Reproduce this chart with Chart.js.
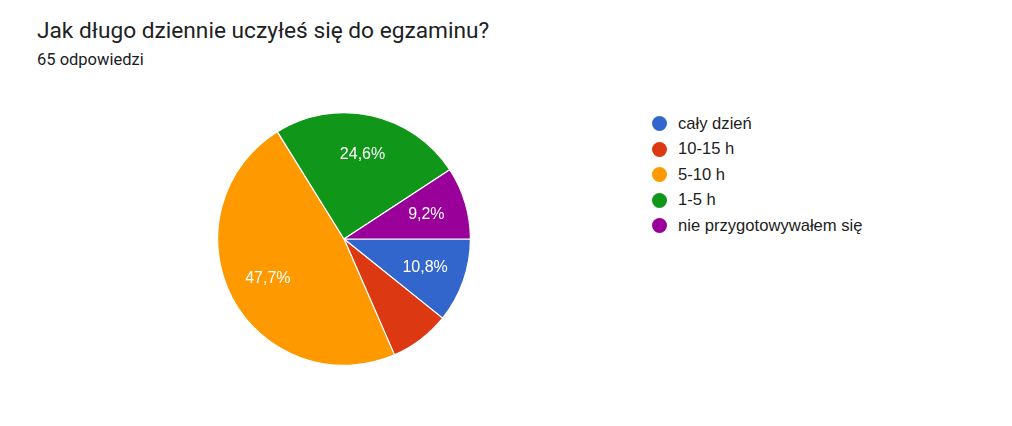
<!DOCTYPE html>
<html>
<head>
<meta charset="utf-8">
<script src="https://cdn.jsdelivr.net/npm/chart.js@4.4.1/dist/chart.umd.min.js"></script>
<style>
    html, body { margin: 0; padding: 0; background: #fff; }
    body { width: 1012px; height: 426px; position: relative; overflow: hidden; font-family: Roboto, 'Liberation Sans', sans-serif; }
    .title { position: absolute; left: 37px; top: 17px; font-size: 22.7px; color: #202124; line-height: 27px; }
    .subtitle { position: absolute; left: 37px; top: 50px; font-size: 16.5px; color: #202124; line-height: 19px; }
    .chart-box { position: absolute; left: 217px; top: 112px; width: 254px; height: 254px; }
    .legend { position: absolute; left: 652px; top: 111px; margin: 0; padding: 0; list-style: none; font-family: 'Liberation Sans', Arial, sans-serif; font-size: 16.6px; color: #222; }
    .legend li { height: 25.5px; display: flex; align-items: center; }
    .legend .dot { width: 15px; height: 15px; border-radius: 50%; margin-right: 11px; }
</style>
</head>
<body>
<div class="title">Jak długo dziennie uczyłeś się do egzaminu?</div>
<div class="subtitle">65 odpowiedzi</div>
<div class="chart-box"><canvas id="pieChart"></canvas></div>
<ul class="legend" id="legend"></ul>

<script>
// ─── data ───
const categories = ['cały dzień', '10-15 h', '5-10 h', '1-5 h', 'nie przygotowywałem się'];
const counts = [7, 5, 31, 16, 6];
const sliceColors = ['#3366CC', '#DC3912', '#FF9900', '#109618', '#990099'];

const total = counts.reduce((a, b) => a + b, 0);

// percentage labels inside slices, like Google Forms (small slices skipped)
const sliceLabels = {
    id: 'sliceLabels',
    afterDatasetsDraw(chart) {
        const { ctx } = chart;
        const meta = chart.getDatasetMeta(0);
        ctx.save();
        ctx.fillStyle = '#fff';
        ctx.font = "16px 'Liberation Sans', Arial, sans-serif";
        ctx.textAlign = 'center';
        ctx.textBaseline = 'middle';
        meta.data.forEach((arc, i) => {
            const share = counts[i] / total;
            if (share < 0.08) return;
            const mid = (arc.startAngle + arc.endAngle) / 2;
            const r = arc.outerRadius * 0.68;
            const x = arc.x + Math.cos(mid) * r;
            const y = arc.y + Math.sin(mid) * r;
            ctx.fillText((share * 100).toFixed(1).replace('.', ',') + '%', x, y);
        });
        ctx.restore();
    }
};

new Chart(document.getElementById('pieChart'), {
    type: 'pie',
    data: {
        labels: categories,
        datasets: [{
            data: counts,
            backgroundColor: sliceColors,
            borderColor: '#fff',
            borderWidth: 1.2
        }]
    },
    options: {
        responsive: true,
        maintainAspectRatio: false,
        animation: false,
        rotation: 90,
        plugins: {
            legend: { display: false },
            tooltip: { enabled: false }
        }
    },
    plugins: [sliceLabels]
});

// legend
const legendEl = document.getElementById('legend');
categories.forEach((name, i) => {
    const li = document.createElement('li');
    const dot = document.createElement('span');
    dot.className = 'dot';
    dot.style.background = sliceColors[i];
    li.appendChild(dot);
    li.appendChild(document.createTextNode(name));
    legendEl.appendChild(li);
});
</script>
</body>
</html>
